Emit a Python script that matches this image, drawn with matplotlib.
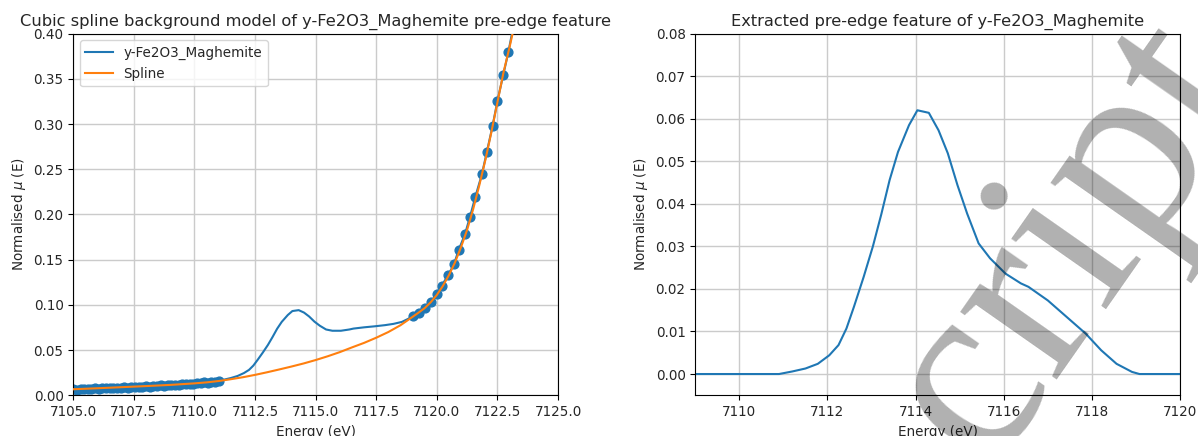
import matplotlib
matplotlib.use("Agg")
import matplotlib.pyplot as plt
import numpy as np

# ---------------- data ----------------
# measured spectrum (energy in eV, normalised mu)
energy = [7105.00, 7105.15, 7105.30, 7105.45, 7105.60, 7105.75, 7105.90, 7106.05,
          7106.20, 7106.35, 7106.50, 7106.65, 7106.80, 7106.95, 7107.10, 7107.25,
          7107.40, 7107.55, 7107.70, 7107.85, 7108.00, 7108.15, 7108.30, 7108.45,
          7108.60, 7108.75, 7108.90, 7109.05, 7109.20, 7109.35, 7109.50, 7109.65,
          7109.80, 7109.95, 7110.10, 7110.25, 7110.40, 7110.55, 7110.70, 7110.85,
          7111.00,
          7111.20, 7111.50, 7111.78, 7112.04, 7112.25, 7112.43, 7112.60, 7112.82,
          7113.03, 7113.22, 7113.41, 7113.60, 7113.85, 7114.04, 7114.30, 7114.52,
          7114.73, 7114.95, 7115.17, 7115.43, 7115.69, 7116.04, 7116.39, 7116.56,
          7117.00, 7117.43, 7117.86, 7118.21, 7118.56, 7118.91,
          7119.03, 7119.28, 7119.51, 7119.75, 7120.00, 7120.20, 7120.47, 7120.71,
          7120.90, 7121.16, 7121.37, 7121.59, 7121.86, 7122.06, 7122.30, 7122.50,
          7122.74, 7122.95, 7123.17]
mu = [0.0068, 0.0064, 0.0071, 0.0067, 0.0074, 0.0070, 0.0077, 0.0073,
      0.0080, 0.0076, 0.0083, 0.0079, 0.0086, 0.0082, 0.0089, 0.0086,
      0.0093, 0.0089, 0.0096, 0.0093, 0.0100, 0.0097, 0.0105, 0.0101,
      0.0109, 0.0106, 0.0114, 0.0110, 0.0119, 0.0115, 0.0124, 0.0121,
      0.0130, 0.0126, 0.0136, 0.0132, 0.0142, 0.0139, 0.0150, 0.0147,
      0.0160,
      0.0172, 0.0191, 0.0214, 0.0246, 0.0281, 0.0329, 0.0390, 0.0473,
      0.0557, 0.0644, 0.0736, 0.0812, 0.0888, 0.0932, 0.0942, 0.0915,
      0.0872, 0.0815, 0.0770, 0.0728, 0.0714, 0.0714, 0.0728, 0.0738,
      0.0752, 0.0763, 0.0776, 0.0790, 0.0812, 0.0858,
      0.0877, 0.0914, 0.0962, 0.1035, 0.1117, 0.1212, 0.1331, 0.1452,
      0.1607, 0.1781, 0.1976, 0.2197, 0.2445, 0.2688, 0.2979, 0.3256,
      0.3543, 0.3794, 0.4100]

# background fit ranges (points used for the spline)
pre_edge_max = 7111.0
post_edge_min = 7119.0

# cubic spline background
spline_energy = [7105.0, 7106.0, 7107.0, 7108.0, 7109.0, 7110.0, 7110.5, 7111.0,
                 7111.5, 7112.0, 7112.5, 7113.0, 7113.5, 7114.0, 7114.5, 7115.0,
                 7115.5, 7116.0, 7116.5, 7117.0, 7117.5, 7118.0, 7118.5, 7119.0,
                 7119.25, 7119.5, 7119.75, 7120.0, 7120.25, 7120.5, 7120.75,
                 7121.0, 7121.25, 7121.5, 7121.75, 7122.0, 7122.25, 7122.5,
                 7122.75, 7123.0, 7123.25, 7123.5]
spline_mu = [0.0067, 0.0078, 0.0090, 0.0102, 0.0115, 0.0132, 0.0143, 0.0158,
             0.0178, 0.0200, 0.0226, 0.0255, 0.0286, 0.0318, 0.0352, 0.0390,
             0.0432, 0.0478, 0.0530, 0.0580, 0.0637, 0.0700, 0.0775, 0.0868,
             0.0915, 0.0965, 0.1030, 0.1110, 0.1210, 0.1330, 0.1470,
             0.1640, 0.1830, 0.2060, 0.2320, 0.2600, 0.2910, 0.3240,
             0.3570, 0.3850, 0.4150, 0.4450]

# extracted pre-edge feature
feature_energy = [7109.0, 7110.0, 7110.9, 7111.2, 7111.5, 7111.78, 7112.04, 7112.25,
                  7112.43, 7112.6, 7112.82, 7113.03, 7113.22, 7113.41, 7113.6,
                  7113.85, 7114.04, 7114.3, 7114.52, 7114.73, 7114.95, 7115.17,
                  7115.43, 7115.69, 7116.04, 7116.39, 7116.56, 7117.0, 7117.43,
                  7117.86, 7118.21, 7118.56, 7118.91, 7119.08, 7120.0]
feature_mu = [0.0, 0.0, 0.0, 0.0006, 0.0013, 0.0024, 0.0044, 0.0068,
              0.0107, 0.0158, 0.0228, 0.0300, 0.0375, 0.0456, 0.0522,
              0.0585, 0.0620, 0.0614, 0.0573, 0.0519, 0.0444, 0.0377,
              0.0307, 0.0272, 0.0236, 0.0213, 0.0205, 0.0173, 0.0134,
              0.0095, 0.0056, 0.0024, 0.0005, 0.0, 0.0]

sample = "y-Fe2O3_Maghemite"

# ---------------- figure ----------------
plt.rcParams["font.size"] = 9.75
plt.rcParams["text.color"] = "#262626"
plt.rcParams["axes.labelcolor"] = "#262626"
plt.rcParams["xtick.labelcolor"] = "#262626"
plt.rcParams["ytick.labelcolor"] = "#262626"

W, H = 1198, 436
fig = plt.figure(figsize=(W / 100, H / 100), dpi=100)

ax1 = fig.add_axes([73.3 / W, (H - 395.3) / H, 484.7 / W, 361.6 / H])
ax2 = fig.add_axes([695.3 / W, (H - 395.3) / H, 484.7 / W, 361.6 / H])

E = np.array(energy)
M = np.array(mu)
fit_mask = (E <= pre_edge_max) | (E >= post_edge_min)

grid_kw = dict(color="#cbcbcb", lw=1.0)

ax1.scatter(E[fit_mask], M[fit_mask], s=40, color="#1f77b4", zorder=2)
ax1.plot(E, M, color="#1f77b4", lw=1.5, label=sample, zorder=3)
ax1.plot(spline_energy, spline_mu, color="#ff7f0e", lw=1.5, label="Spline", zorder=4)
ax1.set_xlim(7105, 7125)
ax1.set_ylim(0, 0.40)
ax1.set_xticks([7105.0, 7107.5, 7110.0, 7112.5, 7115.0, 7117.5, 7120.0, 7122.5, 7125.0])
ax1.xaxis.set_major_formatter(matplotlib.ticker.FormatStrFormatter("%.1f"))
ax1.set_yticks(np.linspace(0, 0.40, 9))
ax1.yaxis.set_major_formatter(matplotlib.ticker.FormatStrFormatter("%.2f"))
ax1.grid(True, **grid_kw)
ax1.set_axisbelow(True)
ax1.set_xlabel("Energy (eV)")
ax1.set_ylabel(r"Normalised $\mu$ (E)")
ax1.set_title("Cubic spline background model of " + sample + " pre-edge feature", fontsize=11.7)
ax1.legend(loc="upper left")

ax2.plot(feature_energy, feature_mu, color="#1f77b4", lw=1.5)
ax2.set_xlim(7109, 7120)
ax2.set_ylim(-0.005, 0.08)
ax2.set_xticks([7110, 7112, 7114, 7116, 7118, 7120])
ax2.set_yticks(np.linspace(0, 0.08, 9))
ax2.yaxis.set_major_formatter(matplotlib.ticker.FormatStrFormatter("%.2f"))
ax2.grid(True, **grid_kw)
ax2.set_axisbelow(True)
ax2.set_xlabel("Energy (eV)")
ax2.set_ylabel(r"Normalised $\mu$ (E)")
ax2.set_title("Extracted pre-edge feature of " + sample, fontsize=11.7)

# journal watermark (partially visible)
fig.text(985 / W, (H - 468) / H, "cript", rotation=55, rotation_mode="anchor",
         ha="left", va="baseline", fontsize=185, family="Liberation Serif",
         color="black", alpha=0.31, zorder=10)

fig.savefig("out.png", dpi=100)
